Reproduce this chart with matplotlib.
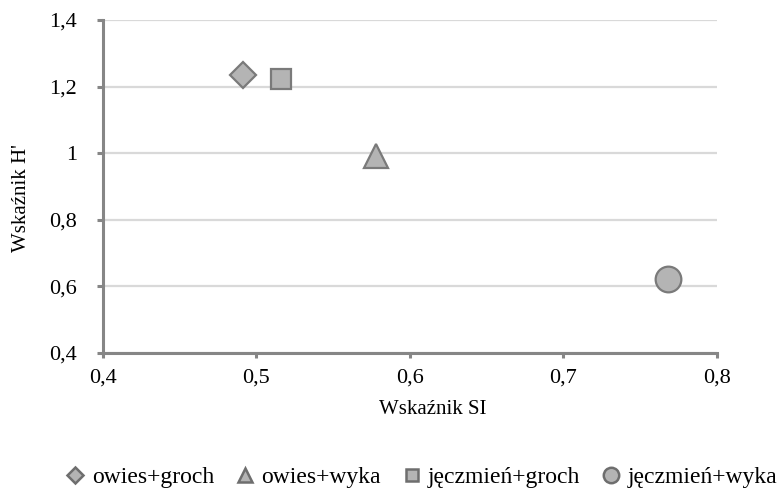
import matplotlib
matplotlib.use("Agg")
import matplotlib.pyplot as plt
from matplotlib.ticker import FuncFormatter

plt.rcParams['font.family'] = 'serif'
plt.rcParams['font.serif'] = ['Liberation Serif', 'DejaVu Serif']

# data
labels = ['owies+groch', 'owies+wyka', 'jęczmień+groch', 'jęczmień+wyka']
si_values = [0.491, 0.578, 0.516, 0.768]
h_values = [1.235, 0.992, 1.223, 0.622]
markers = ['D', '^', 's', 'o']
sizes = [13.5, 17, 15, 18.5]

fig = plt.figure(figsize=(7.79, 4.95), dpi=100)
ax = fig.add_axes([0.1322, 0.2869, 0.788, 0.6727])

handles = []
for lab, x, y, m, s in zip(labels, si_values, h_values, markers, sizes):
    h, = ax.plot([x], [y], linestyle='none', marker=m, markersize=s,
                 markerfacecolor='#b4b4b4', markeredgecolor='#7a7a7a',
                 markeredgewidth=1.6, label=lab, zorder=3)
    handles.append(h)

ax.set_xlim(0.4, 0.8)
ax.set_ylim(0.4, 1.4)
ax.set_xticks([0.4, 0.5, 0.6, 0.7, 0.8])
ax.set_yticks([0.4, 0.6, 0.8, 1.0, 1.2, 1.4])

fmt = FuncFormatter(lambda v, p: ('%g' % round(v, 2)).replace('.', ','))
ax.xaxis.set_major_formatter(fmt)
ax.yaxis.set_major_formatter(fmt)

ax.yaxis.grid(True, color='#d9d9d9', linewidth=1.6)
ax.set_axisbelow(True)
for s in ['top', 'right']:
    ax.spines[s].set_visible(False)
for s in ['left', 'bottom']:
    ax.spines[s].set_color('#868686')
    ax.spines[s].set_linewidth(2.2)
ax.tick_params(axis='y', colors='#868686', width=2.2, length=4.5, pad=14,
               labelcolor='black', labelsize=16)
ax.tick_params(axis='x', colors='#868686', width=2.2, length=3.5, pad=8,
               labelcolor='black', labelsize=16)

ax.set_xlabel('Wskaźnik SI', fontsize=15)
ax.xaxis.set_label_coords(0.537, -0.141)
ax.xaxis.label.set_va('top')
ax.set_ylabel("Wskaźnik H'", fontsize=15)
ax.yaxis.set_label_coords(-0.118, 0.465)

leg = fig.legend(handles=handles, loc='center', bbox_to_anchor=(0.542, 0.036),
                 ncol=4, frameon=False, fontsize=17, handlelength=0.7,
                 handletextpad=0.35, columnspacing=0.95, markerscale=0.6)
for lh in leg.legend_handles:
    lh.set_markeredgecolor('#6e6e6e')
    lh.set_markeredgewidth(1.8)

fig.savefig('out.png', dpi=100)
